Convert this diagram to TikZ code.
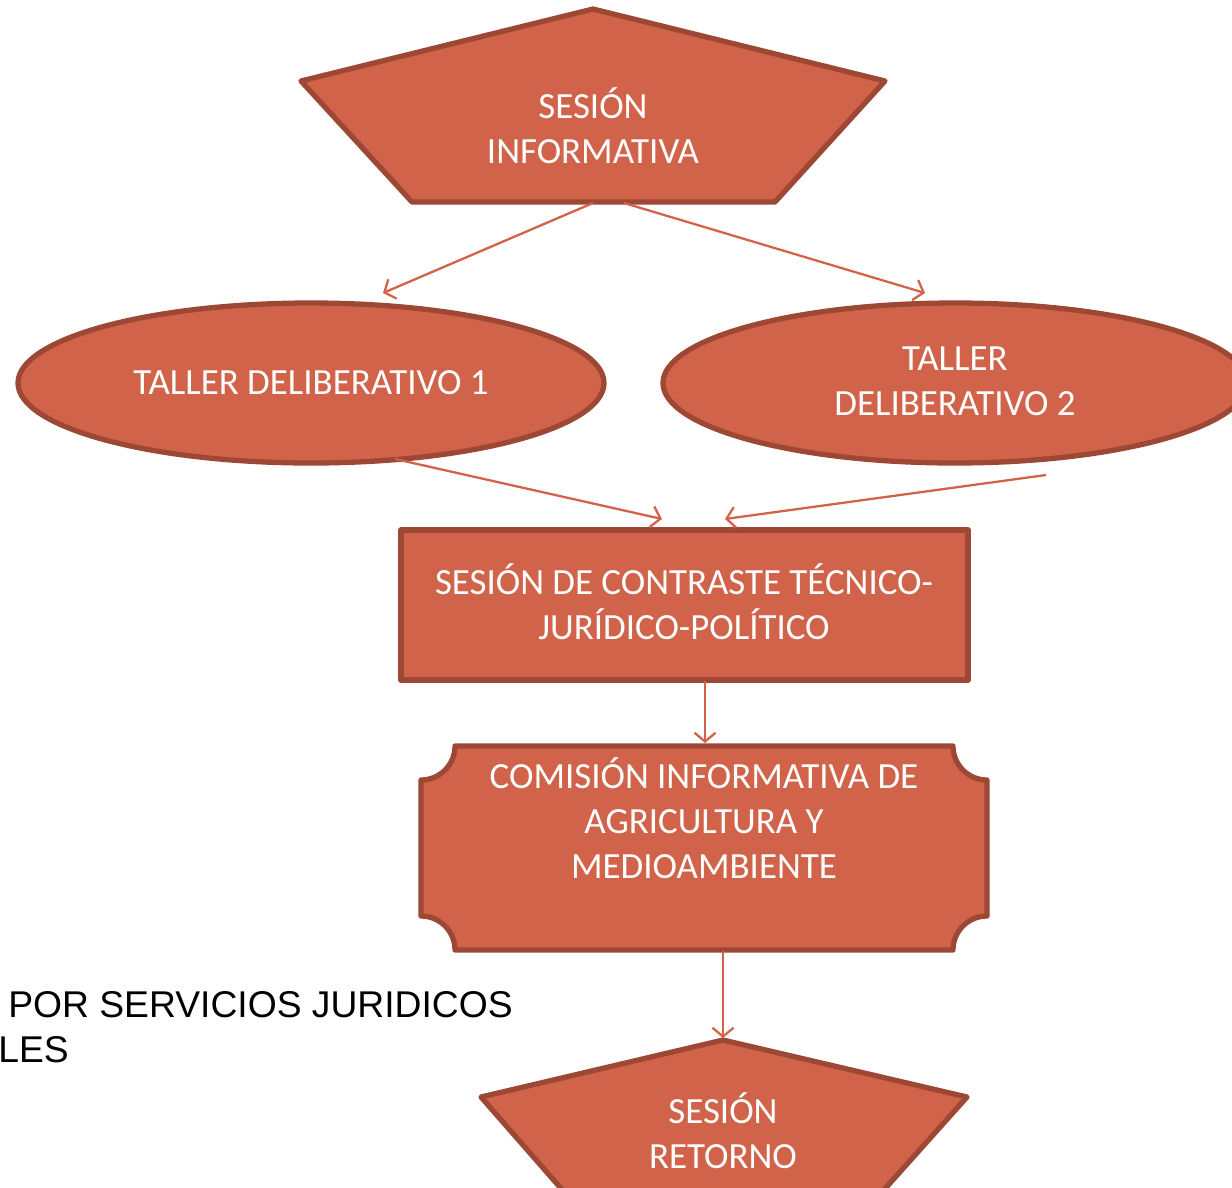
\documentclass[tikz,border=0pt]{standalone}
\usepackage{fontspec}
\setmainfont{Carlito}
\newfontfamily\arialfont{Liberation Sans}
\usetikzlibrary{arrows.meta}
\definecolor{TileFill}{RGB}{208,99,74}
\definecolor{TileLine}{RGB}{157,72,52}
\definecolor{FlowLine}{RGB}{212,98,72}

\begin{document}
\begin{tikzpicture}[x = 0.02cm, y = -0.02cm,
              tile/.style = {fill = TileFill, draw = TileLine, line width = 3pt, line join = round},
              tilelabel/.style = {text = white, align = center, inner sep = 0pt, font = \fontsize{21}{25.6}\selectfont},
              flow/.style = {draw = FlowLine, line width = 1.3pt, -{Straight Barb[length = 5pt, width = 12pt]}}]
              \useasboundingbox (0,0) rectangle (1232,1188);
              \clip (0,0) rectangle (1232,1188);
              \filldraw [tile] (593,9) -- (885,81) -- (775,202) -- (412,202) -- (301,81) -- cycle;
              \filldraw [tile] (311,383) ellipse [x radius = 293, y radius = 80];
              \filldraw [tile] (955,383) ellipse [x radius = 292, y radius = 80];
              \filldraw [tile] (401,530) rectangle (968,680);
              \filldraw [tile] (455,746) -- (953,746) arc [start angle = 180, end angle = 90, radius = 34]
                -- (987,916) arc [start angle = 270, end angle = 180, radius = 34]
                -- (455,950) arc [start angle = 360, end angle = 270, radius = 34]
                -- (421,780) arc [start angle = 90, end angle = 0, radius = 34] -- cycle;
              \filldraw [tile] (723,1040) -- (967,1097) -- (874,1201) -- (572,1201) -- (481,1097) -- cycle;
              \node [tilelabel] (info) at (593,126) {SESIÓN\\INFORMATIVA};
              \node [tilelabel] (taller1) at (311,383) {TALLER DELIBERATIVO 1};
              \node [tilelabel] (taller2) at (955,381) {TALLER\\DELIBERATIVO 2};
              \node [tilelabel] (contraste) at (684,602) {SESIÓN DE CONTRASTE TÉCNICO-\\JURÍDICO-POLÍTICO};
              \node [tilelabel] (comision) at (704,818) {COMISIÓN INFORMATIVA DE\\AGRICULTURA Y\\MEDIOAMBIENTE};
              \node [tilelabel] (retorno) at (723,1131) {SESIÓN\\RETORNO};
              \node [anchor = west, align = left, inner sep = 0pt, font = \arialfont\fontsize{21.2}{25.6}\selectfont] (juridicos) at (-2,1027) {\hspace*{0.2cm}POR SERVICIOS JURIDICOS\\LES};
              \coordinate (infoL) at (593,203);
              \coordinate (infoR) at (624,203);
              \coordinate (taller1in) at (383,293);
              \coordinate (taller2in) at (925,293);
              \coordinate (taller1out) at (395,459);
              \coordinate (taller2out) at (1046,475);
              \coordinate (contrasteL) at (662,519);
              \coordinate (contrasteR) at (725,519);
              \coordinate (contrasteout) at (705,681);
              \coordinate (comisionin) at (705,743);
              \coordinate (comisionout) at (723,951);
              \coordinate (retornoin) at (723,1038);
              \foreach \a/\b in {infoL/taller1in, infoR/taller2in, taller1out/contrasteL, taller2out/contrasteR, contrasteout/comisionin, comisionout/retornoin}
              \draw [flow] (\a) -- (\b);
            \end{tikzpicture}
\end{document}
